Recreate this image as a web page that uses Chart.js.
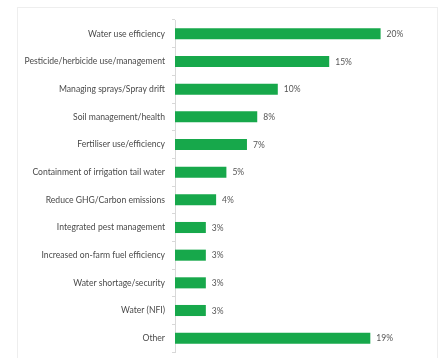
<!DOCTYPE html>
<html>
<head>
<meta charset="utf-8">
<script src="https://cdn.jsdelivr.net/npm/chart.js@4"></script>
<style>
  html, body { margin: 0; padding: 0; background: #fff; }
  #wrap { width: 444px; height: 358px; position: relative; }
</style>
</head>
<body>
<div id="wrap"><canvas id="chart"></canvas></div>
<script>
const issues = [
  "Water use efficiency",
  "Pesticide/herbicide use/management",
  "Managing sprays/Spray drift",
  "Soil management/health",
  "Fertiliser use/efficiency",
  "Containment of irrigation tail water",
  "Reduce GHG/Carbon emissions",
  "Integrated pest management",
  "Increased on-farm fuel efficiency",
  "Water shortage/security",
  "Water (NFI)",
  "Other"
];
const shares = [20, 15, 10, 8, 7, 5, 4, 3, 3, 3, 3, 19];

// faint frame around the plot, like the exported slide
const framePlugin = {
  id: "frame",
  beforeDraw(chart) {
    const c = chart.ctx;
    c.save();
    c.strokeStyle = "#eeeeee";
    c.lineWidth = 1;
    c.strokeRect(17.5, 7.5, 420, 360);
    c.restore();
  }
};

// percentage labels at the end of each bar
const valueLabels = {
  id: "valueLabels",
  afterDatasetsDraw(chart) {
    const c = chart.ctx;
    const meta = chart.getDatasetMeta(0);
    c.save();
    c.font = "8.5px Lato";
    c.fillStyle = "#555";
    c.textBaseline = "middle";
    meta.data.forEach((bar, i) => {
      c.fillText(shares[i] + "%", bar.x + 6, bar.y + 0.5);
    });
    c.restore();
  }
};

new Chart(document.getElementById("chart"), {
  type: "bar",
  data: {
    labels: issues,
    datasets: [{
      data: shares,
      backgroundColor: "#17a84b",
      barPercentage: 0.4,
      categoryPercentage: 1
    }]
  },
  options: {
    indexAxis: "y",
    responsive: true,
    maintainAspectRatio: false,
    animation: false,
    layout: { padding: { top: 20, bottom: 6, left: 0, right: 12 } },
    plugins: { legend: { display: false }, tooltip: { enabled: false } },
    scales: {
      x: {
        display: false,
        min: 0,
        max: 25
      },
      y: {
        afterFit(scale) {
          scale.width = 175;
          scale.paddingTop = 0;
          scale.paddingBottom = 0;
        },
        grid: {
          drawOnChartArea: false,
          tickLength: 3,
          color: "#d8d8d8",
          offset: true
        },
        border: { color: "#d8d8d8" },
        ticks: {
          color: "#4a4a4a",
          padding: 7,
          font: { family: "Lato", size: 8.6 }
        }
      }
    }
  },
  plugins: [framePlugin, valueLabels]
});
</script>
</body>
</html>
